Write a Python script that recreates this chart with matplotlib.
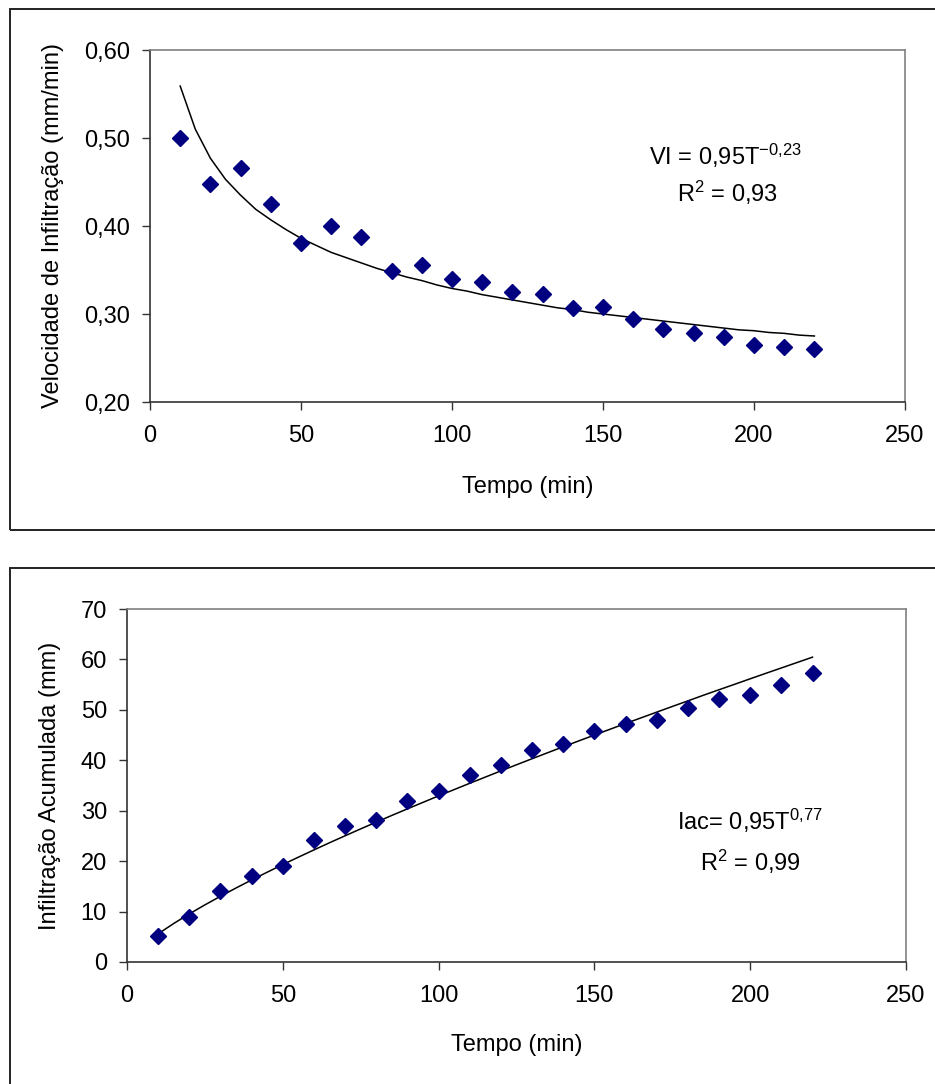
import numpy as np
import matplotlib
matplotlib.use("Agg")
import matplotlib.pyplot as plt
from matplotlib.patches import Rectangle
from matplotlib.ticker import FuncFormatter

plt.rcParams['font.family'] = ['Liberation Sans', 'DejaVu Sans']
plt.rcParams['mathtext.default'] = 'regular'

# dados observados
tempo = [10, 20, 30, 40, 50, 60, 70, 80, 90, 100, 110,
         120, 130, 140, 150, 160, 170, 180, 190, 200, 210, 220]
vi = [0.500, 0.448, 0.466, 0.425, 0.381, 0.400, 0.387, 0.349, 0.356, 0.340, 0.336,
      0.325, 0.323, 0.307, 0.308, 0.294, 0.283, 0.278, 0.274, 0.265, 0.263, 0.260]
iac = [5.1, 8.9, 14.0, 17.1, 19.1, 24.1, 26.9, 28.1, 31.9, 33.9, 37.0,
       39.0, 42.0, 43.2, 45.9, 47.1, 47.9, 50.3, 52.2, 53.0, 54.9, 57.3]

# linhas de tendência (passo de 5 min)
t_curva = [10, 15, 20, 25, 30, 35, 40, 45, 50, 55, 60, 65, 70, 75, 80, 85, 90, 95,
           100, 105, 110, 115, 120, 125, 130, 135, 140, 145, 150, 155, 160, 165,
           170, 175, 180, 185, 190, 195, 200, 205, 210, 215, 220]
vi_curva = [0.559, 0.510, 0.477, 0.453, 0.435, 0.419, 0.407, 0.396, 0.386, 0.378,
            0.370, 0.364, 0.358, 0.352, 0.347, 0.342, 0.338, 0.333, 0.329, 0.326,
            0.322, 0.319, 0.316, 0.313, 0.310, 0.307, 0.305, 0.302, 0.300, 0.298,
            0.296, 0.294, 0.292, 0.290, 0.288, 0.286, 0.284, 0.282, 0.281, 0.279,
            0.278, 0.276, 0.275]
iac_curva = [5.59, 7.64, 9.54, 11.33, 13.03, 14.68, 16.27, 17.81, 19.32, 20.79,
             22.23, 23.65, 25.03, 26.40, 27.74, 29.07, 30.37, 31.66, 32.94, 34.19,
             35.44, 36.67, 37.90, 39.11, 40.31, 41.50, 42.68, 43.85, 45.00, 46.15,
             47.30, 48.42, 49.55, 50.67, 51.78, 52.90, 53.99, 55.07, 56.16, 57.24,
             58.31, 59.38, 60.45]

W, H = 935, 1084
FS = 17
fig = plt.figure(figsize=(W / 100, H / 100), dpi=100)

# molduras dos graficos
for (y0, y1) in [(9, 530), (568, 1095)]:
    fig.patches.append(Rectangle((10 / W, 1 - y1 / H), (W + 20) / W, (y1 - y0) / H,
                                 transform=fig.transFigure, fill=False,
                                 edgecolor='#222222', linewidth=1.4))

def estilo(ax):
    for s in ['top', 'right']:
        ax.spines[s].set_color('#808080')
        ax.spines[s].set_linewidth(1.2)
    for s in ['left', 'bottom']:
        ax.spines[s].set_color('#333333')
        ax.spines[s].set_linewidth(1.2)
    ax.tick_params(direction='out', length=5.5, width=1, colors='#333333',
                   labelsize=FS, labelcolor='black')
    ax.tick_params(axis='y', pad=9)
    ax.tick_params(axis='x', pad=11)
    ax.set_xlim(0, 250)
    ax.set_xticks([0, 50, 100, 150, 200, 250])

# grafico 1
ax1 = fig.add_axes([150 / W, 1 - 402 / H, 755 / W, 352 / H])
ax1.plot(t_curva, vi_curva, color='black', lw=1.1)
ax1.plot(tempo, vi, 'D', color='#000080', ms=8.5, ls='none')
estilo(ax1)
ax1.set_ylim(0.2, 0.6)
ax1.set_yticks([0.2, 0.3, 0.4, 0.5, 0.6])
ax1.yaxis.set_major_formatter(FuncFormatter(lambda v, p: f"{v:.2f}".replace('.', ',')))
ax1.set_xlabel('Tempo (min)', fontsize=FS, va='center')
ax1.set_ylabel('Velocidade de Infiltração (mm/min)', fontsize=FS, va='center')
ax1.xaxis.set_label_coords(0.5, -85 / 352)
ax1.yaxis.set_label_coords(-97 / 755, 0.5)
ax1.text(725 / W, 1 - 156 / H, 'VI = 0,95T$^{-0{,}23}$', transform=fig.transFigure,
         ha='center', va='center', fontsize=FS)
ax1.text(728 / W, 1 - 193 / H, 'R$^{2}$ = 0,93', transform=fig.transFigure,
         ha='center', va='center', fontsize=FS)

# grafico 2
ax2 = fig.add_axes([127 / W, 1 - 962 / H, 779 / W, 353 / H])
ax2.plot(t_curva, iac_curva, color='black', lw=1.1)
ax2.plot(tempo, iac, 'D', color='#000080', ms=8.5, ls='none')
estilo(ax2)
ax2.set_ylim(0, 70)
ax2.set_yticks(range(0, 71, 10))
ax2.set_xlabel('Tempo (min)', fontsize=FS, va='center')
ax2.set_ylabel('Infiltração Acumulada (mm)', fontsize=FS, va='center')
ax2.xaxis.set_label_coords(0.5, -83 / 353)
ax2.yaxis.set_label_coords(-77 / 779, 0.5)
ax2.text(750 / W, 1 - 821 / H, 'Iac= 0,95T$^{0{,}77}$', transform=fig.transFigure,
         ha='center', va='center', fontsize=FS)
ax2.text(750 / W, 1 - 862 / H, 'R$^{2}$ = 0,99', transform=fig.transFigure,
         ha='center', va='center', fontsize=FS)

fig.savefig('out.png', dpi=100)
